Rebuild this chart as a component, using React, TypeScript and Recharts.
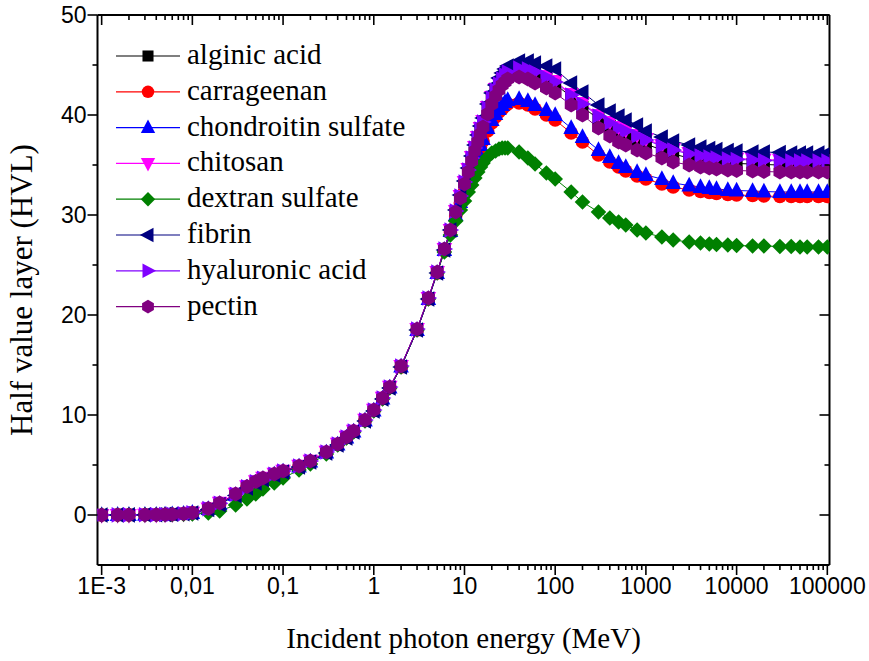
import React from 'react';
import { LineChart, Line, XAxis, YAxis, Legend, Label } from 'recharts';

// Incident photon energy (MeV)
const energies = [
  0.001, 0.0015, 0.002, 0.003, 0.004, 0.005, 0.006, 0.008, 0.01, 0.015, 0.02, 0.03, 0.04, 0.05, 0.06, 0.08, 0.1,
  0.15, 0.2, 0.3, 0.4, 0.5, 0.6, 0.8, 1, 1.25, 1.5, 2, 3, 4, 5, 6, 7, 8, 9, 10, 11, 12, 13, 14, 15, 16, 18, 20, 22,
  24, 26, 28, 30, 40, 50, 60, 80, 100, 150, 200, 300, 400, 500, 600, 800, 1000, 1500, 2000, 3000, 4000, 5000, 6000,
  8000, 10000, 15000, 20000, 30000, 40000, 50000, 60000, 80000, 100000,
];

const alginicAcid = [
  0.0, 0.01, 0.01, 0.02, 0.03, 0.05, 0.07, 0.13, 0.22, 0.62, 1.15, 2.05, 2.8, 3.3, 3.65, 4.05, 4.4, 4.9, 5.4, 6.3, 7.1, 7.8, 8.4, 9.5, 10.5, 11.7, 12.8, 14.9,
  18.6, 21.7, 24.3, 26.6, 28.5,
  30.4, 31.9, 33.3, 34.5, 35.6, 36.6, 37.6, 38.5, 39.2, 40.5, 41.5, 42.3, 42.9, 43.4, 43.8, 44.1,
  44.5, 44.4, 44.1, 43.6, 43.1,
  41.8, 40.8, 39.6, 38.9, 38.4, 38.0, 37.5, 37.1,
  36.5, 36.1, 35.7, 35.5, 35.4, 35.3, 35.2, 35.15,
  35.1, 35.05, 35.0, 35.0, 35.0, 35.0, 35.0, 35.0,
];

const carrageenan = [
  0.0, 0.01, 0.01, 0.02, 0.03, 0.05, 0.07, 0.12, 0.21, 0.6, 1.1, 2.0, 2.75, 3.25, 3.6, 4.05, 4.35, 4.85, 5.35, 6.25, 7.05, 7.75, 8.35, 9.45, 10.45, 11.65, 12.75, 14.8,
  18.5, 21.6, 24.2, 26.4, 28.3,
  29.9, 31.2, 32.4, 33.5, 34.4, 35.3, 36.1, 36.8, 37.4, 38.4, 39.2, 39.8, 40.3, 40.6, 40.9, 41.1,
  41.2, 41.0, 40.6, 40.0, 39.5,
  38.2, 37.3, 36.0, 35.3, 34.8, 34.4, 33.9, 33.6,
  33.1, 32.8, 32.5, 32.35, 32.25, 32.15, 32.05, 32.0,
  31.95, 31.9, 31.85, 31.85, 31.85, 31.85, 31.85, 31.85,
];

const chondroitinSulfate = [
  0.0, 0.01, 0.01, 0.02, 0.03, 0.05, 0.07, 0.12, 0.21, 0.6, 1.1, 2.0, 2.75, 3.25, 3.6, 4.05, 4.35, 4.85, 5.35, 6.25, 7.05, 7.75, 8.35, 9.45, 10.45, 11.65, 12.75, 14.85,
  18.5, 21.6, 24.2, 26.5, 28.4,
  30.0, 31.3, 32.5, 33.6, 34.6, 35.5, 36.3, 37.0, 37.6, 38.7, 39.5, 40.1, 40.6, 41.0, 41.3, 41.5,
  41.6, 41.4, 41.0, 40.5, 40.0,
  38.7, 37.8, 36.5, 35.8, 35.2, 34.8, 34.3, 34.0,
  33.6, 33.2, 32.95, 32.8, 32.7, 32.6, 32.5, 32.45,
  32.4, 32.35, 32.3, 32.3, 32.3, 32.3, 32.3, 32.3,
];

const chitosan = [
  0.0, 0.01, 0.01, 0.02, 0.03, 0.05, 0.07, 0.13, 0.23, 0.66, 1.22, 2.12, 2.87, 3.37, 3.72, 4.12, 4.42, 4.92, 5.42, 6.32, 7.12, 7.82, 8.42, 9.52, 10.52, 11.72, 12.82, 14.9,
  18.6, 21.7, 24.3, 26.6, 28.5,
  30.4, 31.9, 33.3, 34.6, 35.8, 36.8, 37.8, 38.7, 39.4, 40.8, 41.8, 42.6, 43.2, 43.7, 44.1, 44.4,
  44.8, 44.7, 44.4, 43.9, 43.4,
  42.1, 41.2, 40.0, 39.3, 38.8, 38.5, 38.0, 37.6,
  37.0, 36.6, 36.2, 36.0, 35.9, 35.8, 35.7, 35.65,
  35.6, 35.55, 35.5, 35.5, 35.5, 35.5, 35.5, 35.5,
];

const dextranSulfate = [
  0.0, 0.0, 0.01, 0.01, 0.02, 0.03, 0.04, 0.07, 0.11, 0.2, 0.4, 1.0, 1.6, 2.1, 2.6, 3.2, 3.7, 4.5, 5.1, 6.1, 7.0, 7.7, 8.3, 9.4, 10.4, 11.6, 12.7, 14.8,
  18.5, 21.6, 24.2, 26.3, 28.0,
  29.4, 30.5, 31.4, 32.3, 33.0, 33.7, 34.3, 34.8, 35.2, 35.8, 36.2, 36.4, 36.6, 36.7, 36.7, 36.7,
  36.3, 35.7, 35.1, 34.2, 33.6,
  32.3, 31.3, 30.3, 29.7, 29.3, 29.0, 28.5, 28.2,
  27.8, 27.5, 27.3, 27.2, 27.1, 27.05, 27.0, 26.95,
  26.9, 26.9, 26.85, 26.85, 26.8, 26.8, 26.8, 26.8,
];

const fibrin = [
  0.0, 0.01, 0.01, 0.02, 0.03, 0.05, 0.07, 0.12, 0.2, 0.55, 1.05, 1.95, 2.7, 3.2, 3.55, 4.0, 4.3, 4.8, 5.3, 6.2, 7.0, 7.7, 8.3, 9.4, 10.4, 11.6, 12.7, 14.8,
  18.5, 21.6, 24.2, 26.5, 28.5,
  30.5, 32.0, 33.4, 34.7, 35.9, 37.0, 38.0, 38.9, 39.7, 41.1, 42.2, 43.0, 43.7, 44.2, 44.6, 44.9,
  45.4, 45.4, 45.2, 44.9, 44.6,
  43.2, 42.3, 41.0, 40.4, 39.9, 39.5, 39.0, 38.4,
  37.8, 37.4, 37.0, 36.8, 36.65, 36.55, 36.45, 36.4,
  36.3, 36.3, 36.25, 36.2, 36.2, 36.2, 36.2, 36.2,
];

const hyaluronicAcid = [
  0.0, 0.01, 0.01, 0.02, 0.03, 0.05, 0.07, 0.13, 0.22, 0.64, 1.18, 2.08, 2.83, 3.33, 3.68, 4.08, 4.4, 4.9, 5.4, 6.3, 7.1, 7.8, 8.4, 9.5, 10.5, 11.7, 12.8, 14.9,
  18.6, 21.7, 24.3, 26.6, 28.5,
  30.4, 31.9, 33.3, 34.5, 35.7, 36.7, 37.7, 38.6, 39.3, 40.7, 41.7, 42.5, 43.1, 43.6, 44.0, 44.3,
  44.7, 44.6, 44.3, 43.8, 43.3,
  42.0, 41.1, 39.9, 39.2, 38.7, 38.4, 37.9, 37.5,
  36.9, 36.5, 36.1, 35.9, 35.8, 35.7, 35.6, 35.55,
  35.5, 35.45, 35.4, 35.4, 35.4, 35.4, 35.4, 35.4,
];

const pectin = [
  0.0, 0.01, 0.01, 0.02, 0.03, 0.05, 0.07, 0.13, 0.22, 0.65, 1.2, 2.1, 2.85, 3.35, 3.7, 4.1, 4.4, 4.9, 5.4, 6.3, 7.1, 7.8, 8.4, 9.5, 10.5, 11.7, 12.8, 14.9,
  18.6, 21.7, 24.3, 26.6, 28.5,
  30.3, 31.7, 33.1, 34.3, 35.4, 36.4, 37.3, 38.1, 38.8, 40.1, 41.1, 41.9, 42.5, 43.0, 43.3, 43.6,
  43.8, 43.6, 43.2, 42.7, 42.2,
  41.0, 40.0, 38.7, 37.9, 37.3, 37.0, 36.5, 36.2,
  35.7, 35.3, 35.0, 34.8, 34.7, 34.6, 34.5, 34.45,
  34.4, 34.35, 34.3, 34.3, 34.3, 34.3, 34.3, 34.3,
];

const xMajorTicks = [0.001, 0.01, 0.1, 1, 10, 100, 1000, 10000, 100000];
const xTickLabels = ['1E-3', '0,01', '0,1', '1', '10', '100', '1000', '10000', '100000'];
const xMinorMultipliers = [2, 3, 4, 5, 6, 7, 8, 9];
const yMajorTicks = [0, 10, 20, 30, 40, 50];
const yMinorTicks = [5, 15, 25, 35, 45];

const xMinorTicks = xMajorTicks.slice(0, -1).flatMap((d) => xMinorMultipliers.map((m) => +(m * d).toPrecision(6)));
const xAllTicks = [...xMajorTicks, ...xMinorTicks].sort((a, b) => a - b);
const yAllTicks = [...yMajorTicks, ...yMinorTicks].sort((a, b) => a - b);

const SERIES = [
  { key: 'alginic', name: 'alginic acid', color: '#000000', shape: 'square', values: alginicAcid },
  { key: 'carrageenan', name: 'carrageenan', color: '#FF0000', shape: 'circle', values: carrageenan },
  { key: 'chondroitin', name: 'chondroitin sulfate', color: '#0000FF', shape: 'up', values: chondroitinSulfate },
  { key: 'chitosan', name: 'chitosan', color: '#FF00FF', shape: 'down', values: chitosan },
  { key: 'dextran', name: 'dextran sulfate', color: '#008000', shape: 'diamond', values: dextranSulfate },
  { key: 'fibrin', name: 'fibrin', color: '#000080', shape: 'left', values: fibrin },
  { key: 'hyaluronic', name: 'hyaluronic acid', color: '#8000FF', shape: 'right', values: hyaluronicAcid },
  { key: 'pectin', name: 'pectin', color: '#800080', shape: 'hexagon', values: pectin },
];

const data = energies.map((e, i) => {
  const row: Record<string, number> = { e };
  SERIES.forEach((s) => {
    row[s.key] = s.values[i];
  });
  return row;
});

const W = 869;
const H = 661;
const X_DOMAIN: [number, number] = [0.0009, 105700];
const Y_DOMAIN: [number, number] = [-5, 50];
const SANS = "Arial, 'Liberation Sans', sans-serif";
const SERIF = "'Times New Roman', 'Liberation Serif', serif";
const MAJOR_LEN = 10;
const MINOR_LEN = 5;
const TICK_FONT = 23;

function Marker({ shape, cx, cy, color, k = 1 }: { shape: string; cx: number; cy: number; color: string; k?: number }) {
  const r = 7.8 * k;
  const h = 6 * k;
  switch (shape) {
    case 'square':
      return <rect x={cx - 6 * k} y={cy - 6 * k} width={12 * k} height={12 * k} fill={color} />;
    case 'circle':
      return <circle cx={cx} cy={cy} r={6.8 * k} fill={color} />;
    case 'up':
      return <polygon points={`${cx},${cy - r - 1} ${cx - r},${cy + h} ${cx + r},${cy + h}`} fill={color} />;
    case 'down':
      return <polygon points={`${cx},${cy + r + 1} ${cx - r},${cy - h} ${cx + r},${cy - h}`} fill={color} />;
    case 'diamond':
      return <polygon points={`${cx},${cy - r} ${cx + r},${cy} ${cx},${cy + r} ${cx - r},${cy}`} fill={color} />;
    case 'left':
      return <polygon points={`${cx - r - 1},${cy} ${cx + h},${cy - r} ${cx + h},${cy + r}`} fill={color} />;
    case 'right':
      return <polygon points={`${cx + r + 1},${cy} ${cx - h},${cy - r} ${cx - h},${cy + r}`} fill={color} />;
    case 'hexagon': {
      const pts = [0, 1, 2, 3, 4, 5]
        .map((j) => {
          const a = (Math.PI / 3) * j - Math.PI / 2;
          return `${cx + 7.4 * k * Math.cos(a)},${cy + 7.4 * k * Math.sin(a)}`;
        })
        .join(' ');
      return <polygon points={pts} fill={color} />;
    }
    default:
      return null;
  }
}

function LegendContent() {
  const x0 = 116;
  const x1 = 180;
  const mx = 148;
  const tx = 187;
  const y0 = 56;
  const dy = 35.8;
  return (
    <svg width={W} height={H} style={{ position: 'absolute', left: 0, top: 0, overflow: 'visible' }}>
      {SERIES.map((s, i) => {
        const y = y0 + i * dy;
        return (
          <g key={s.key}>
            <line x1={x0} y1={y} x2={x1} y2={y} stroke={s.color} strokeWidth={1.2} />
            <Marker shape={s.shape} cx={mx} cy={y} color={s.color} k={0.92} />
            <text x={tx} y={y + 8} fontFamily={SERIF} fontSize={29} fill="#000">
              {s.name}
            </text>
          </g>
        );
      })}
    </svg>
  );
}

const axisLineStyle = { stroke: '#000', strokeWidth: 2 };
const TICK_STROKE = 1.6;

function BottomTick(props: any) {
  const { x, y, payload } = props;
  const idx = xMajorTicks.indexOf(payload.value);
  const major = idx >= 0;
  return (
    <g>
      <line x1={x} y1={y} x2={x} y2={y + (major ? MAJOR_LEN : MINOR_LEN)} stroke="#000" strokeWidth={TICK_STROKE} />
      {major && (
        <text x={x} y={y + MAJOR_LEN + 2} dy="0.72em" textAnchor="middle" fontFamily={SANS} fontSize={TICK_FONT} fill="#000">
          {xTickLabels[idx]}
        </text>
      )}
    </g>
  );
}

function TopTick(props: any) {
  const { x, y, payload } = props;
  const major = xMajorTicks.indexOf(payload.value) >= 0;
  return <line x1={x} y1={y} x2={x} y2={y + (major ? MAJOR_LEN : MINOR_LEN)} stroke="#000" strokeWidth={TICK_STROKE} />;
}

function LeftTick(props: any) {
  const { x, y, payload } = props;
  const major = yMajorTicks.indexOf(payload.value) >= 0;
  return (
    <g>
      <line x1={x} y1={y} x2={x - (major ? MAJOR_LEN : MINOR_LEN)} y2={y} stroke="#000" strokeWidth={TICK_STROKE} />
      {major && (
        <text x={x - MAJOR_LEN - 1} y={y} dy="0.36em" textAnchor="end" fontFamily={SANS} fontSize={TICK_FONT} fill="#000">
          {payload.value}
        </text>
      )}
    </g>
  );
}

function RightTick(props: any) {
  const { x, y, payload } = props;
  const major = yMajorTicks.indexOf(payload.value) >= 0;
  return <line x1={x} y1={y} x2={x - (major ? MAJOR_LEN : MINOR_LEN)} y2={y} stroke="#000" strokeWidth={TICK_STROKE} />;
}

export default function App() {
  return (
    <div style={{ position: 'absolute', left: 0, top: 0, width: W, height: H, background: '#fff' }}>
      <LineChart width={W} height={H} data={data} margin={{ top: 15, right: 39.5, bottom: 95, left: 96.5 }}>
        <XAxis
          xAxisId="x"
          dataKey="e"
          type="number"
          scale="log"
          domain={X_DOMAIN}
          allowDataOverflow
          ticks={xAllTicks}
          interval={0}
          height={1}
          tickSize={0}
          tickMargin={0}
          axisLine={axisLineStyle}
          tickLine={false}
          tick={BottomTick}
        >
          <Label
            content={() => (
              <text x={463.5} y={648} textAnchor="middle" fontFamily={SERIF} fontSize={29} fill="#000">
                Incident photon energy (MeV)
              </text>
            )}
          />
        </XAxis>
        <XAxis
          xAxisId="xtop"
          orientation="top"
          mirror
          dataKey="e"
          type="number"
          scale="log"
          domain={X_DOMAIN}
          allowDataOverflow
          ticks={xAllTicks}
          interval={0}
          height={1}
          tickSize={0}
          tickMargin={0}
          axisLine={axisLineStyle}
          tickLine={false}
          tick={TopTick}
        />
        <YAxis
          yAxisId="y"
          type="number"
          domain={Y_DOMAIN}
          allowDataOverflow
          ticks={yAllTicks}
          interval={0}
          width={1}
          tickSize={0}
          tickMargin={0}
          axisLine={axisLineStyle}
          tickLine={false}
          tick={LeftTick}
        >
          <Label
            content={() => (
              <text
                x={32}
                y={290}
                transform="rotate(-90 32 290)"
                textAnchor="middle"
                fontFamily={SERIF}
                fontSize={31}
                fill="#000"
              >
                Half value layer (HVL)
              </text>
            )}
          />
        </YAxis>
        <YAxis
          yAxisId="yright"
          orientation="right"
          mirror
          type="number"
          domain={Y_DOMAIN}
          allowDataOverflow
          ticks={yAllTicks}
          interval={0}
          width={1}
          tickSize={0}
          tickMargin={0}
          axisLine={axisLineStyle}
          tickLine={false}
          tick={RightTick}
        />
        {SERIES.map((s) => (
          <Line
            key={s.key}
            xAxisId="x"
            yAxisId="y"
            dataKey={s.key}
            name={s.name}
            type="linear"
            stroke={s.color}
            strokeWidth={1}
            isAnimationActive={false}
            dot={(p: any) => <Marker key={`${s.key}-${p.index}`} shape={s.shape} cx={p.cx} cy={p.cy} color={s.color} />}
            activeDot={false}
          />
        ))}
        <Legend
          layout="horizontal"
          verticalAlign="middle"
          align="center"
          content={() => <LegendContent />}
          wrapperStyle={{ position: 'absolute', left: 0, top: 0, width: W, height: H, pointerEvents: 'none' }}
        />
      </LineChart>
    </div>
  );
}
